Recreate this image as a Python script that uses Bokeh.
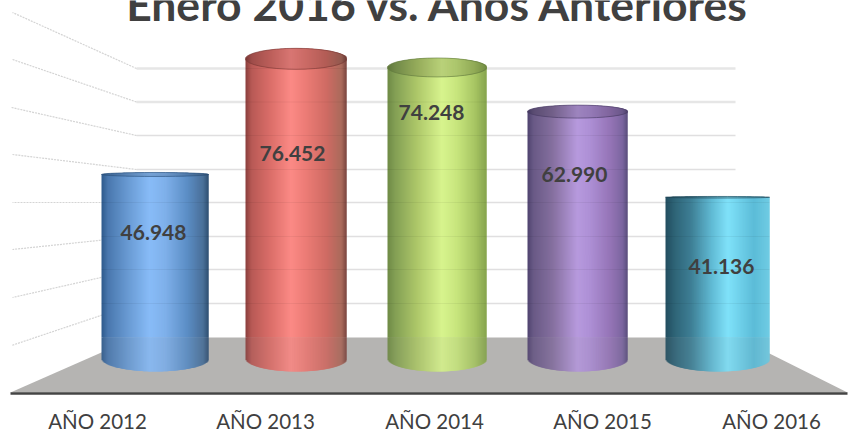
from bokeh.plotting import figure
from bokeh.embed import file_html
from bokeh.resources import INLINE
from bokeh.models import Range1d
from bokeh.core.properties import value
import numpy as np

title_text = "Enero 2016 vs. Años Anteriores"
categories = ["AÑO 2012", "AÑO 2013", "AÑO 2014", "AÑO 2015", "AÑO 2016"]
values = [46948, 76452, 74248, 62990, 41136]
value_labels = ["46.948", "76.452", "74.248", "62.990", "41.136"]

# --- layout (page pixels -> data units) ---
W, H = 848, 433
PX_PER_CAT = 140.6
CAT0_PX = 154.5
BASE_PX = 358.0
PX_PER_VAL = 0.00392


def X(px):
    return (np.asarray(px, dtype=float) - CAT0_PX) / PX_PER_CAT


def Y(py):
    return (BASE_PX - np.asarray(py, dtype=float)) / PX_PER_VAL


centers_px = [154.5, 295.5, 436.5, 577, 717]
widths_px = [107, 101, 99, 100, 104]
top_ry_px = [2.0, 10.5, 9.5, 6.5, 0.8]
base_ry_px = 13.0
label_x_px = [97, 265, 434, 602, 771]
value_pos_px = [(153, 232), (292, 153), (431, 112), (574, 174), (721, 266)]

profiles = [
    [(0, "#2f5a8c"), (.06, "#4a78ae"), (.25, "#6a9bd4"), (.45, "#88bcf8"), (.6, "#7fb0ea"), (.8, "#5c8ec6"), (.95, "#4a7098"), (1, "#2f4f72")],
    [(0, "#8a3f3d"), (.06, "#b85a56"), (.25, "#dc6f6a"), (.45, "#fc8a86"), (.6, "#ec7c76"), (.8, "#d06c64"), (.95, "#aa6a5c"), (1, "#7a4640")],
    [(0, "#6f8a45"), (.08, "#84a055"), (.3, "#aec86a"), (.55, "#d8f48e"), (.7, "#c8e67e"), (.88, "#a8c664"), (1, "#86a44e")],
    [(0, "#4f4270"), (.06, "#6a5a86"), (.25, "#85709f"), (.5, "#b79ade"), (.62, "#ae90d6"), (.82, "#9676b8"), (.95, "#7c66a0"), (1, "#5a4e7c")],
    [(0, "#234e60"), (.1, "#30677a"), (.25, "#3f8096"), (.45, "#62bcd6"), (.6, "#80e2fa"), (.85, "#5cbcd8"), (1, "#70cce4")],
]
wall_py = [68, 101.5, 135, 169, 202, 236, 269, 303]
wall_far_px = [(12, 12), (12, 59), (11, 107), (12, 154), (12, 202), (12, 249), (12, 297), (11, 345)]


def color_at(profile, t):
    xs = [a for a, _ in profile]
    rgb = np.array([[int(c[i:i + 2], 16) for i in (1, 3, 5)] for _, c in profile], dtype=float)
    return [float(np.interp(t, xs, rgb[:, k])) for k in range(3)]


def to_hex(c, f=1.0):
    return "#%02x%02x%02x" % tuple(int(min(255, max(0, v * f))) for v in c)


p = figure(width=W, height=H, output_backend="svg", toolbar_location=None,
           x_range=Range1d(float(X(0)), float(X(W))), y_range=Range1d(float(Y(H)), float(Y(0))),
           min_border=0, outline_line_color=None, background_fill_color="white")
p.styles = {"position": "absolute", "left": "0px", "top": "0px"}
p.axis.visible = False
p.grid.visible = False

# left wall + back wall grid
for i, (py, (fx, fy)) in enumerate(zip(wall_py, wall_far_px)):
    p.line(X([136, 735]).tolist(), Y([py, py]).tolist(), line_color="#e6e6e6" if i < 2 else "#e0dfe0",
           line_width=2.4 if i < 2 else 1.6)
    p.line(X([136, fx]).tolist(), Y([py, fy]).tolist(), line_color="#d4d4d4", line_width=1.2, line_dash="2 1")

# floor
floor_x = X([10, 135, 737, 847]).tolist()
floor_y = Y([392, 337, 337, 392]).tolist()
p.patch(floor_x, floor_y, fill_color="#b5b4b2", line_color=None)
p.line(X([10, 847]).tolist(), Y([393, 393]).tolist(), line_color="#444444", line_width=2.5)

# cylinders: one-pixel strips that overlap their right neighbour, so no seams show
for i, v in enumerate(values):
    cx, w = float(X(centers_px[i])), widths_px[i] / PX_PER_CAT
    N = widths_px[i]
    prof = profiles[i]
    edges = np.linspace(-1, 1, N + 1)
    mids = (edges[:-1] + edges[1:]) / 2
    left = cx + edges[:-1] * w / 2
    right = np.minimum(cx + edges[1:] * w / 2 + 1.2 / PX_PER_CAT, cx + w / 2)
    base_ry = base_ry_px / PX_PER_VAL
    top_ry = top_ry_px[i] / PX_PER_VAL
    rgb = [color_at(prof, (t + 1) / 2) for t in mids]
    cols = [to_hex(c) for c in rgb]
    tinted = [to_hex([a * 0.9 + 0.1 * 150 for a in c]) for c in rgb]
    capcols = [to_hex(c, 0.86) for c in rgb]
    floor_back = float(Y(337))
    bottoms = -base_ry * np.sqrt(1 - mids ** 2)
    p.quad(left=left, right=right, bottom=[floor_back] * N, top=[v] * N, fill_color=cols, line_color=None)
    p.quad(left=left, right=right, bottom=bottoms, top=[floor_back + 20] * N, fill_color=tinted, line_color=None)
    # grid lines faintly seen through the body
    for py in wall_py:
        if Y(py) < v:
            p.line([cx - w / 2, cx + w / 2], [float(Y(py))] * 2, line_color="#000000", line_alpha=0.05, line_width=1.2)
    # top cap
    half = top_ry * np.sqrt(1 - mids ** 2)
    p.quad(left=left, right=right, bottom=v - half, top=v + half, fill_color=capcols, line_color=None)
    p.ellipse(x=[cx], y=[v], width=[w], height=[2 * top_ry], fill_color=None,
              line_color=to_hex(color_at(prof, 0), 0.9), line_alpha=0.6, line_width=1)

# value labels
for txt, (lx, ly) in zip(value_labels, value_pos_px):
    p.text(x=[float(X(lx))], y=[float(Y(ly))], text=[txt], text_font=value("Lato"), text_font_style="bold",
           text_font_size="21px", text_color="#404040", text_align="center", text_baseline="middle")

# category labels
p.text(x=X(label_x_px).tolist(), y=[float(Y(420.8))] * 5, text=categories, text_font=value("Lato"),
       text_font_size="20.5px", text_color="#404040", text_align="center", text_baseline="middle")

# title
p.text(x=[float(X(438))], y=[float(Y(2.5))], text=[title_text], text_font=value("Lato"), text_font_style="bold",
       text_font_size="44.5px", text_color="#404040", text_align="center", text_baseline="alphabetic")

open("out.html", "w").write(file_html(p, INLINE))
